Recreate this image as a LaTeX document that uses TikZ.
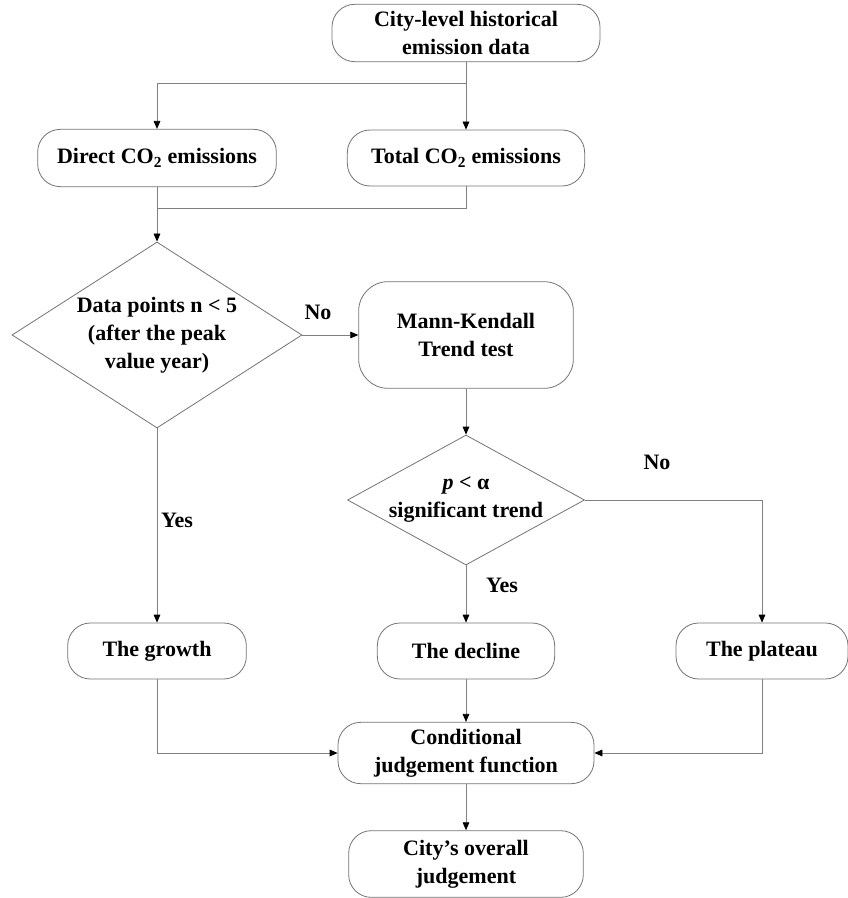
\documentclass[tikz,border=0pt]{standalone}
\usepackage{fontspec}
\setmainfont{Liberation Serif}
\usepackage{tikz}
\usetikzlibrary{shapes.geometric,arrows.meta}

\begin{document}
\begin{tikzpicture}[x=0.75pt,y=-0.75pt,
  every node/.append style={font=\fontsize{16.5}{21}\selectfont\bfseries},
  box/.style={draw=black!55,line width=0.6pt,rounded corners=17pt,align=center,inner sep=1pt},
  dia/.style={draw=black!55,line width=0.6pt,shape=diamond,align=center,inner sep=0pt},
  link/.style={draw=black!50,line width=0.6pt},
  arr/.style={link,-{Triangle[length=6pt,width=5pt,color=black]}},
  lab/.style={inner sep=0pt}]
\useasboundingbox (0,0) rectangle (847,898);
\node[box,minimum width=201pt,minimum height=43pt] (hist) at (466,33) {City-level historical\\emission data};
\node[box,minimum width=179pt,minimum height=43pt] (direct) at (157,158) {Direct CO\textsubscript{2} emissions};
\node[box,minimum width=178pt,minimum height=42pt] (total) at (466,158) {Total CO\textsubscript{2} emissions};
\node[dia,minimum width=217.5pt,minimum height=139.5pt,aspect=1.56] (npts) at (157,335) {Data points n < 5\\(after the peak\\value year)};
\node[box,rounded corners=22pt,minimum width=161pt,minimum height=80pt] (mk) at (466,335) {Mann-Kendall\\Trend test};
\node[dia,minimum width=177.75pt,minimum height=97.5pt,aspect=1.82,inner xsep=-4pt,inner ysep=-3pt] (sig) at (466,500) {\textit{p} < α\\significant trend};
\node[box,minimum width=134pt,minimum height=42pt] (growth) at (157,651) {The growth};
\node[box,minimum width=133pt,minimum height=42pt] (decline) at (466,651) {The decline};
\node[box,minimum width=129pt,minimum height=42pt] (plateau) at (762,651) {The plateau};
\node[box,minimum width=192pt,minimum height=46pt] (cond) at (466,753) {Conditional\\judgement function};
\node[box,minimum width=176pt,minimum height=50pt] (overall) at (466,864) {City’s overall\\judgement};
\coordinate (splitA) at (466,83);
\coordinate (mergeA) at (157,208);
\node[lab] (no1) at (318,312) {No};
\node[lab] (yes1) at (177,520) {Yes};
\node[lab] (no2) at (657,462) {No};
\node[lab] (yes2) at (502,585) {Yes};
\draw[arr] (hist.south) -- (total.north);
\draw[arr] (splitA) -| (direct.north);
\draw[link] (total.south) |- (mergeA);
\draw[arr] (direct.south) -- (npts.north);
\draw[arr] (npts.east) -- (mk.west);
\draw[arr] (npts.south) -- (growth.north);
\draw[arr] (mk.south) -- (sig.north);
\draw[arr] (sig.east) -| (plateau.north);
\draw[arr] (sig.south) -- (decline.north);
\draw[arr] (growth.south) |- (cond.west);
\draw[arr] (decline.south) -- (cond.north);
\draw[arr] (plateau.south) |- (cond.east);
\draw[arr] (cond.south) -- (overall.north);
\end{tikzpicture}
\end{document}
